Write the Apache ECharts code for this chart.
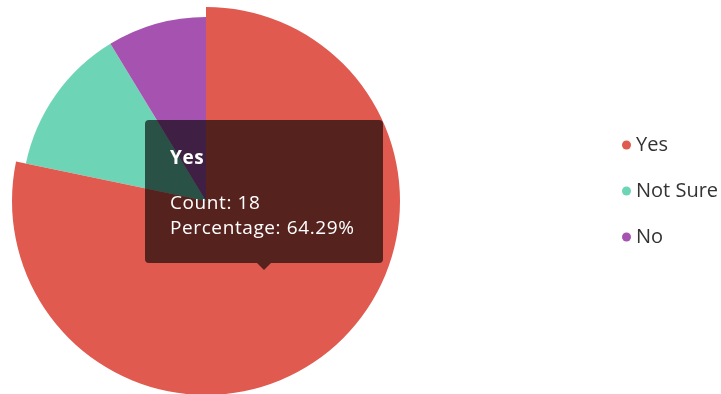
<!DOCTYPE html>
<html>
<head>
<meta charset="utf-8">
<script src="https://cdn.jsdelivr.net/npm/echarts@6/dist/echarts.min.js"></script>
<style>
  html, body { margin: 0; padding: 0; background: #fff; }
  #chart { width: 721px; height: 394px; }
</style>
</head>
<body>
<div id="chart"></div>
<script>
// Survey answers
const answers = ['Yes', 'Not Sure', 'No'];
const counts = [18, 3, 2];
// Everyone who took the survey, including those who skipped the question
const respondents = 28;
const sliceColors = ['#e05a50', '#6dd5b5', '#a552b0'];

const chart = echarts.init(document.getElementById('chart'), null, { renderer: 'canvas' });

const pieData = answers.map((name, i) => ({
  name: name,
  value: counts[i],
  itemStyle: { color: sliceColors[i] },
  emphasis: { itemStyle: { color: sliceColors[i] } }
}));

const fontFamily = '"Open Sans", Lato, sans-serif';

chart.setOption({
  animation: false,
  textStyle: { fontFamily: fontFamily },
  tooltip: {
    trigger: 'item',
    alwaysShowContent: true,
    transitionDuration: 0,
    backgroundColor: 'rgba(0,0,0,0.62)',
    borderWidth: 0,
    borderRadius: 4,
    padding: [25, 25, 0, 25],
    textStyle: { color: '#fff', fontSize: 19, fontFamily: fontFamily },
    extraCssText: 'width:238px;height:143px;box-sizing:border-box;box-shadow:none;line-height:25px;letter-spacing:0.6px;',
    position: function () { return [145, 120]; },
    formatter: function (p) {
      const pct = (p.value / respondents * 100).toFixed(2);
      return '<div style="font-weight:bold;margin-bottom:20px;">' + p.name + '</div>' +
        '<div>Count: ' + p.value + '</div>' +
        '<div>Percentage: ' + pct + '%</div>' +
        '<div style="position:absolute;left:50%;bottom:-7px;margin-left:-7px;width:0;height:0;' +
        'border-left:7px solid transparent;border-right:7px solid transparent;' +
        'border-top:7px solid rgba(0,0,0,0.62);"></div>';
    }
  },
  legend: {
    orient: 'vertical',
    left: 617,
    top: 130,
    icon: 'circle',
    itemWidth: 9,
    itemHeight: 9,
    itemGap: 26,
    textStyle: { color: '#333', fontSize: 20, fontFamily: fontFamily },
    data: answers
  },
  series: [{
    type: 'pie',
    center: [206, 201],
    radius: 184,
    startAngle: 90,
    clockwise: true,
    label: { show: false },
    labelLine: { show: false },
    emphasis: { scale: true, scaleSize: 10 },
    data: pieData
  }]
});

chart.dispatchAction({ type: 'highlight', seriesIndex: 0, dataIndex: 0 });
chart.dispatchAction({ type: 'showTip', seriesIndex: 0, dataIndex: 0 });
</script>
</body>
</html>
